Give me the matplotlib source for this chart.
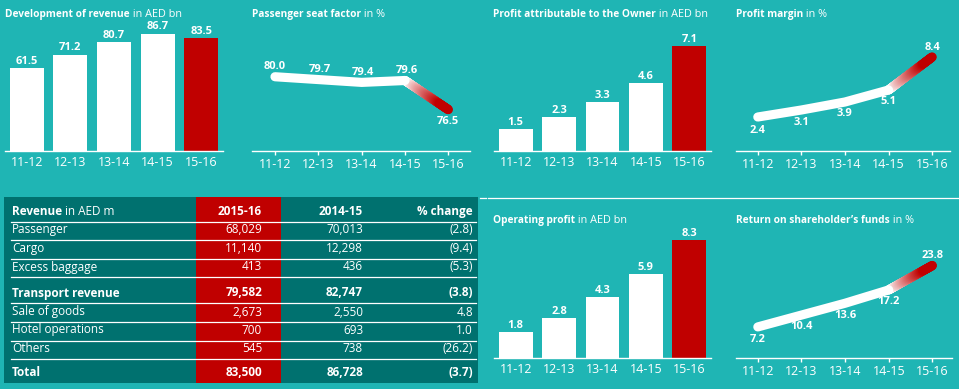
import numpy as np
import matplotlib
matplotlib.use('Agg')
import matplotlib.pyplot as plt
from matplotlib.collections import LineCollection
from matplotlib.colors import to_rgb
from matplotlib.patches import Rectangle

plt.rcParams['font.family'] = ['Open Sans', 'DejaVu Sans']

# ---------------- data ----------------
years = ['11-12', '12-13', '13-14', '14-15', '15-16']
revenue = [61.5, 71.2, 80.7, 86.7, 83.5]
seat_factor = [80.0, 79.7, 79.4, 79.6, 76.5]
profit_owner = [1.5, 2.3, 3.3, 4.6, 7.1]
profit_margin = [2.4, 3.1, 3.9, 5.1, 8.4]
operating_profit = [1.8, 2.8, 4.3, 5.9, 8.3]
return_funds = [7.2, 10.4, 13.6, 17.2, 23.8]

table_header = ['2015-16', '2014-15', '% change']
table_rows = ['Passenger', 'Cargo', 'Excess baggage', 'Transport revenue',
              'Sale of goods', 'Hotel operations', 'Others', 'Total']
rev_2016 = ['68,029', '11,140', '413', '79,582', '2,673', '700', '545', '83,500']
rev_2015 = ['70,013', '12,298', '436', '82,747', '2,550', '693', '738', '86,728']
pct_change = ['(2.8)', '(9.4)', '(5.3)', '(3.8)', '4.8', '1.0', '(26.2)', '(3.7)']
bold_rows = ['Transport revenue', 'Total']

# ---------------- style ----------------
W, H = 959, 389
BG = '#1fb5b4'
DARK = '#00716f'
RED = '#c00000'
WHITE = 'white'
TFS = 7.3
TFS_REG = 7.8

fig = plt.figure(figsize=(W / 100, H / 100), dpi=100, facecolor=BG)

# full-figure pixel axes for table, separators and titles
base = fig.add_axes([0, 0, 1, 1])
base.set_xlim(0, W)
base.set_ylim(H, 0)
base.axis('off')
base.set_facecolor('none')


def px_axes(x0, y_top, x1, y_bottom):
    ax = fig.add_axes([x0 / W, 1 - y_bottom / H, (x1 - x0) / W, (y_bottom - y_top) / H])
    ax.set_facecolor('none')
    for s in ['top', 'right', 'left']:
        ax.spines[s].set_visible(False)
    ax.spines['bottom'].set_color(WHITE)
    ax.spines['bottom'].set_linewidth(1.0)
    ax.set_yticks([])
    return ax


def title(x, y_base, bold, regular):
    t = base.text(x, y_base, bold, fontsize=TFS, fontweight='bold', color=WHITE,
                  ha='left', va='baseline')
    base.annotate(regular, xy=(1, 0), xycoords=t, ha='left', va='bottom',
                  fontsize=TFS_REG, color=WHITE)


def bar_panel(x0, x1, y_top, y_base, values, ymax):
    ax = px_axes(x0, y_top, x1, y_base)
    xs = np.arange(len(values))
    colors = [WHITE] * (len(values) - 1) + [RED]
    ax.bar(xs, values, width=0.78, color=colors)
    ax.set_xlim(-0.5, 4.5)
    ax.set_ylim(0, ymax)
    ax.set_xticks(xs, years)
    ax.tick_params(axis='x', length=0, colors=WHITE, labelsize=9, pad=3.5)
    for i, v in enumerate(values):
        ax.annotate(f'{v:.1f}', (i, v), xytext=(0, 0.8), textcoords='offset points',
                    ha='center', va='bottom', color=WHITE, fontsize=8, fontweight='bold')
    return ax


def line_panel(x0, x1, y_top, y_base, values, ylim, xlim, offsets):
    ax = px_axes(x0, y_top, x1, y_base)
    xs = np.arange(len(values))
    v = np.array(values, dtype=float)
    lw = 6.6
    # gradient segment from white to red
    n = 120
    t = np.linspace(0, 1, n + 1)
    gx = xs[-2] + t * (xs[-1] - xs[-2])
    gy = v[-2] + t * (v[-1] - v[-2])
    segs = np.stack([np.column_stack([gx[:-1], gy[:-1]]),
                     np.column_stack([gx[1:], gy[1:]])], axis=1)
    tm = (t[:-1] + t[1:]) / 2
    f = np.clip((tm - 0.08) / 0.72, 0, 1) ** 0.85
    w = np.array([1.0, 1.0, 1.0])
    r = np.array(to_rgb(RED))
    cols = w + (r - w) * f[:, None]
    lc = LineCollection(segs, colors=cols, linewidths=lw, capstyle='round', zorder=2)
    ax.add_collection(lc)
    ax.plot(xs[:-1], v[:-1], color=WHITE, lw=lw, solid_capstyle='round',
            solid_joinstyle='round', zorder=3)
    ax.set_xlim(*xlim)
    ax.set_ylim(*ylim)
    ax.set_xticks(xs, years)
    ax.tick_params(axis='x', direction='out', length=3, width=1, color=WHITE,
                   labelcolor=WHITE, labelsize=9, pad=2)
    for i, (val, (dx, dy)) in enumerate(zip(values, offsets)):
        ax.annotate(f'{val:.1f}', (i, val), xytext=(dx, dy), textcoords='offset points',
                    ha='center', va='center', color=WHITE, fontsize=8, fontweight='bold',
                    zorder=4)
    return ax


# ---------------- top row ----------------
title(5, 17, 'Development of revenue', ' in AED bn')
bar_panel(5, 223, 20, 151, revenue, 131 / 1.355)

title(252, 17, 'Passenger seat factor', ' in %')
line_panel(252, 470, 20, 151, seat_factor, (72.1, 72.1 + 131 / 9.4), (-0.53, 4.5),
           [(0, 7.5), (1, 7), (1, 7), (1, 7.5), (0, -8.5)])

title(493, 17, 'Profit attributable to the Owner', ' in AED bn')
bar_panel(494, 711, 20, 151, profit_owner, 131 / 14.75)

title(736, 17, 'Profit margin', ' in %')
line_panel(736, 950, 20, 151, profit_margin, (-1.0, -1.0 + 131 / 10.0), (-0.5, 4.41),
           [(0, -9.4), (0, -9), (0, -8.5), (0, -8.5), (0, 7)])

# ---------------- bottom row ----------------
title(493, 223, 'Operating profit', ' in AED bn')
bar_panel(494, 711, 230, 358, operating_profit, 128 / 14.2)

title(736, 223, 'Return on shareholder\u2019s funds', ' in %')
line_panel(736, 952, 230, 358, return_funds, (-1.2, -1.2 + 128 / 3.7), (-0.5, 4.45),
           [(0, -9.4), (0, -8.5), (0, -8.5), (0, -8.5), (0, 7.5)])

# separator line on the right
base.plot([480, 486], [198, 198], color=WHITE, lw=0.9)
base.plot([488, W], [198, 198], color=WHITE, lw=0.9)

# ---------------- table ----------------
tx0, tx1, ty0, ty1 = 4, 478, 197, 383
base.add_patch(Rectangle((tx0, ty0), tx1 - tx0, ty1 - ty0, color=DARK, lw=0))
base.add_patch(Rectangle((196, ty0), 281 - 196, ty1 - ty0, color=RED, lw=0))

header_y = 211
row_y = [229, 248, 267, 293, 312, 330, 349, 372]
line_y = [222, 240, 259, 277, 303, 322, 341, 359]
col_label_x = 12
col_x = [262, 363, 473]

for ly in line_y:
    base.plot([11, 476], [ly, ly], color=WHITE, lw=0.9)

fs = 8.5
ht = base.text(col_label_x, header_y, 'Revenue', fontsize=fs, fontweight='bold',
               color=WHITE, ha='left', va='center')
base.annotate(' in AED m', xy=(1, 0), xycoords=ht, ha='left', va='bottom',
              fontsize=fs, color=WHITE)
for hx, h in zip(col_x, table_header):
    base.text(hx, header_y, h, fontsize=fs, fontweight='bold', color=WHITE,
              ha='right', va='center')

for name, y, a, b, c in zip(table_rows, row_y, rev_2016, rev_2015, pct_change):
    wgt = 'bold' if name in bold_rows else 'normal'
    base.text(col_label_x, y, name, fontsize=fs, fontweight=wgt, color=WHITE,
              ha='left', va='center')
    for hx, val in zip(col_x, [a, b, c]):
        base.text(hx, y, val, fontsize=fs, fontweight=wgt, color=WHITE,
                  ha='right', va='center')

fig.savefig('out.png', dpi=100, facecolor=BG)
